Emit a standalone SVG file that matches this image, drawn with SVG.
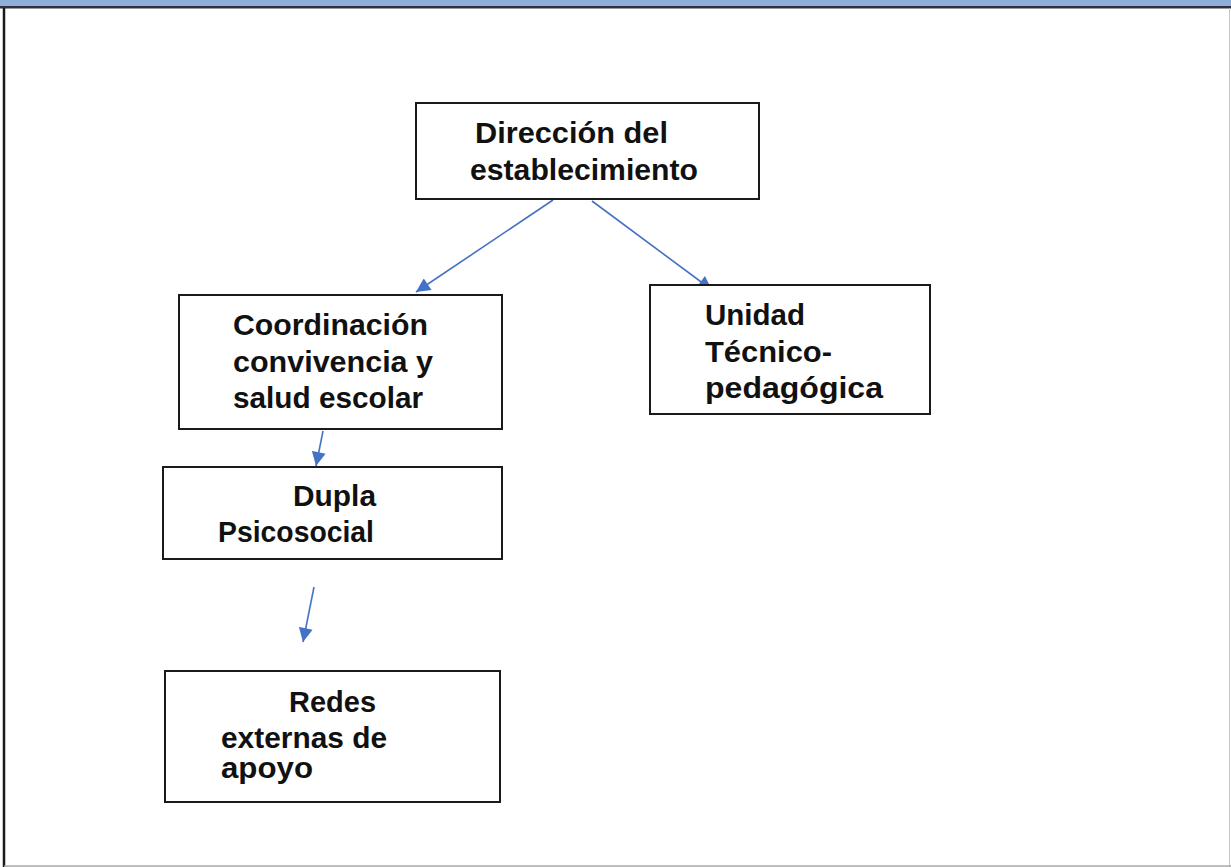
<svg xmlns="http://www.w3.org/2000/svg" width="1231" height="867" viewBox="0 0 1231 867">
<style>
.box{fill:#fff;stroke:#1a1a1a;stroke-width:2}
.lbl{font-family:"Liberation Sans",Arial,sans-serif;font-weight:bold;font-size:29px;fill:#111}
.conn{stroke:#4472C4;stroke-width:1.6;fill:none;marker-end:url(#ah)}
</style>
<defs>
<marker id="ah" viewBox="0 0 10 10" refX="10" refY="5" markerWidth="15" markerHeight="14" markerUnits="userSpaceOnUse" orient="auto">
<path d="M0,0 L10,5 L0,10 Z" fill="#4472C4"/>
</marker>
</defs>
<rect x="0" y="0" width="1231" height="867" fill="#fff"/>
<rect x="0" y="0" width="1231" height="6" fill="#8FAEDA"/>
<rect x="0" y="6" width="1231" height="2.5" fill="#2f3338"/>
<line x1="4" y1="8" x2="4" y2="867" stroke="#1a1a1a" stroke-width="2.5"/>
<line x1="1229.5" y1="8" x2="1229.5" y2="867" stroke="#c8c8c8" stroke-width="1"/>
<line x1="4" y1="866" x2="1231" y2="866" stroke="#a8a8a8" stroke-width="1.5"/>

<g id="connectors">
<line class="conn" x1="553" y1="200" x2="416" y2="292"/>
<line class="conn" x1="592" y1="201" x2="712" y2="290"/>
<line class="conn" x1="323" y1="431" x2="316" y2="466"/>
<line class="conn" x1="314" y1="587" x2="303" y2="642"/>
</g>

<g id="node-direccion">
<rect class="box" x="416" y="103" width="343" height="96"/>
<text class="lbl" x="475" y="143" textLength="193" lengthAdjust="spacingAndGlyphs">Dirección del</text>
<text class="lbl" x="470" y="180" textLength="228" lengthAdjust="spacingAndGlyphs">establecimiento</text>
</g>

<g id="node-coordinacion">
<rect class="box" x="179" y="295" width="323" height="134"/>
<text class="lbl" x="233" y="335" textLength="195" lengthAdjust="spacingAndGlyphs">Coordinación</text>
<text class="lbl" x="233" y="372" textLength="200" lengthAdjust="spacingAndGlyphs">convivencia y</text>
<text class="lbl" x="233" y="408" textLength="190" lengthAdjust="spacingAndGlyphs">salud escolar</text>
</g>

<g id="node-unidad">
<rect class="box" x="650" y="285" width="280" height="129"/>
<text class="lbl" x="705" y="325" textLength="100" lengthAdjust="spacingAndGlyphs">Unidad</text>
<text class="lbl" x="705" y="362" textLength="127" lengthAdjust="spacingAndGlyphs">Técnico-</text>
<text class="lbl" x="705" y="398" textLength="178" lengthAdjust="spacingAndGlyphs">pedagógica</text>
</g>

<g id="node-dupla">
<rect class="box" x="163" y="467" width="339" height="92"/>
<text class="lbl" x="293" y="506" textLength="83" lengthAdjust="spacingAndGlyphs">Dupla</text>
<text class="lbl" x="218" y="542" textLength="156" lengthAdjust="spacingAndGlyphs">Psicosocial</text>
</g>

<g id="node-redes">
<rect class="box" x="165" y="671" width="335" height="131"/>
<text class="lbl" x="289" y="712" textLength="87" lengthAdjust="spacingAndGlyphs">Redes</text>
<text class="lbl" x="221" y="748" textLength="166" lengthAdjust="spacingAndGlyphs">externas de</text>
<text class="lbl" x="221" y="778" textLength="92" lengthAdjust="spacingAndGlyphs">apoyo</text>
</g>
</svg>
